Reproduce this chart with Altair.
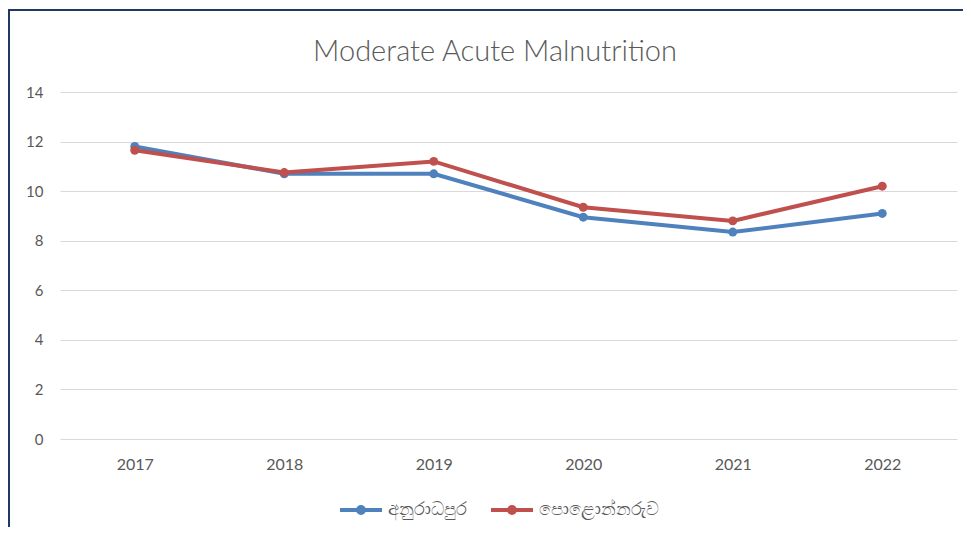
import altair as alt
import pandas as pd

years = ["2017", "2018", "2019", "2020", "2021", "2022"]
anuradhapura = [11.8, 10.7, 10.7, 8.95, 8.35, 9.1]
polonnaruwa = [11.65, 10.75, 11.2, 9.35, 8.8, 10.2]
series_names = ["අනුරාධපුර", "පොළොන්නරුව"]
colors = ["#4F81BD", "#C0504D"]
y_ticks = [0, 2, 4, 6, 8, 10, 12, 14]
title_text = ["Moderate Acute Malnutrition"]

rows = []
for name, vals in zip(series_names, [anuradhapura, polonnaruwa]):
    for yr, v in zip(years, vals):
        rows.append({"year": yr, "value": v, "series": name})
df = pd.DataFrame(rows)

W, H = 897, 347
PAD_L, PAD_T, PAD_R, PAD_B = 52, 84, 6, 88

sym_path = "M-1,0H1M-0.14,0A0.14,0.14 0 1,0 0.14,0A0.14,0.14 0 1,0 -0.14,0"

color = alt.Color(
    "series:N",
    scale=alt.Scale(domain=series_names, range=colors),
    legend=alt.Legend(
        title=None,
        orient="none",
        direction="horizontal",
        legendX=278,
        legendY=395,
        symbolType=sym_path,
        symbolSize=1764,
        symbolStrokeWidth=4,
        labelFontSize=18,
        labelColor="#595959",
        columnPadding=16,
        labelOffset=4,
    ),
)

x = alt.X(
    "year:N",
    sort=years,
    scale=alt.Scale(type="point", padding=0.5),
    axis=alt.Axis(title=None, labelAngle=0, ticks=False, domain=False, labelPadding=17,
                  labelFontSize=16, labelColor="#595959", labelFont="Lato"),
)
y = alt.Y(
    "value:Q",
    scale=alt.Scale(domain=[0, 14], nice=False),
    axis=alt.Axis(title=None, values=y_ticks, ticks=False, domain=False, labelPadding=17,
                  labelFontSize=15, labelColor="#595959", labelFont="Lato",
                  gridColor="#D9D9D9", gridWidth=1),
)

lines = alt.Chart(df).mark_line(strokeWidth=4).encode(x=x, y=y, color=color)
points = alt.Chart(df).mark_point(filled=True, size=80, opacity=1).encode(x=x, y=y, color=color)

title = alt.Chart(pd.DataFrame({"t": title_text})).mark_text(
    font="Lato", fontSize=29, fontWeight=300, color="#595959",
    align="center", baseline="alphabetic",
).encode(text="t:N", x=alt.value(435), y=alt.value(-31))

frame_top = alt.Chart(df).mark_rule(color="#1F3864", strokeWidth=2).encode(
    x=alt.value(-PAD_L), x2=alt.value(W + PAD_R), y=alt.value(-PAD_T + 2)
)
frame_left = alt.Chart(df).mark_rule(color="#1F3864", strokeWidth=2).encode(
    x=alt.value(-PAD_L + 1), y=alt.value(-PAD_T + 2), y2=alt.value(H + PAD_B)
)

chart = alt.layer(lines, points, title, frame_top, frame_left).properties(
    width=W,
    height=H,
    autosize=alt.AutoSizeParams(type="none"),
    padding={"left": PAD_L, "top": PAD_T, "right": PAD_R, "bottom": PAD_B},
).configure_view(stroke=None)

chart.save("out.html", embed_options={"renderer": "svg", "actions": False})
